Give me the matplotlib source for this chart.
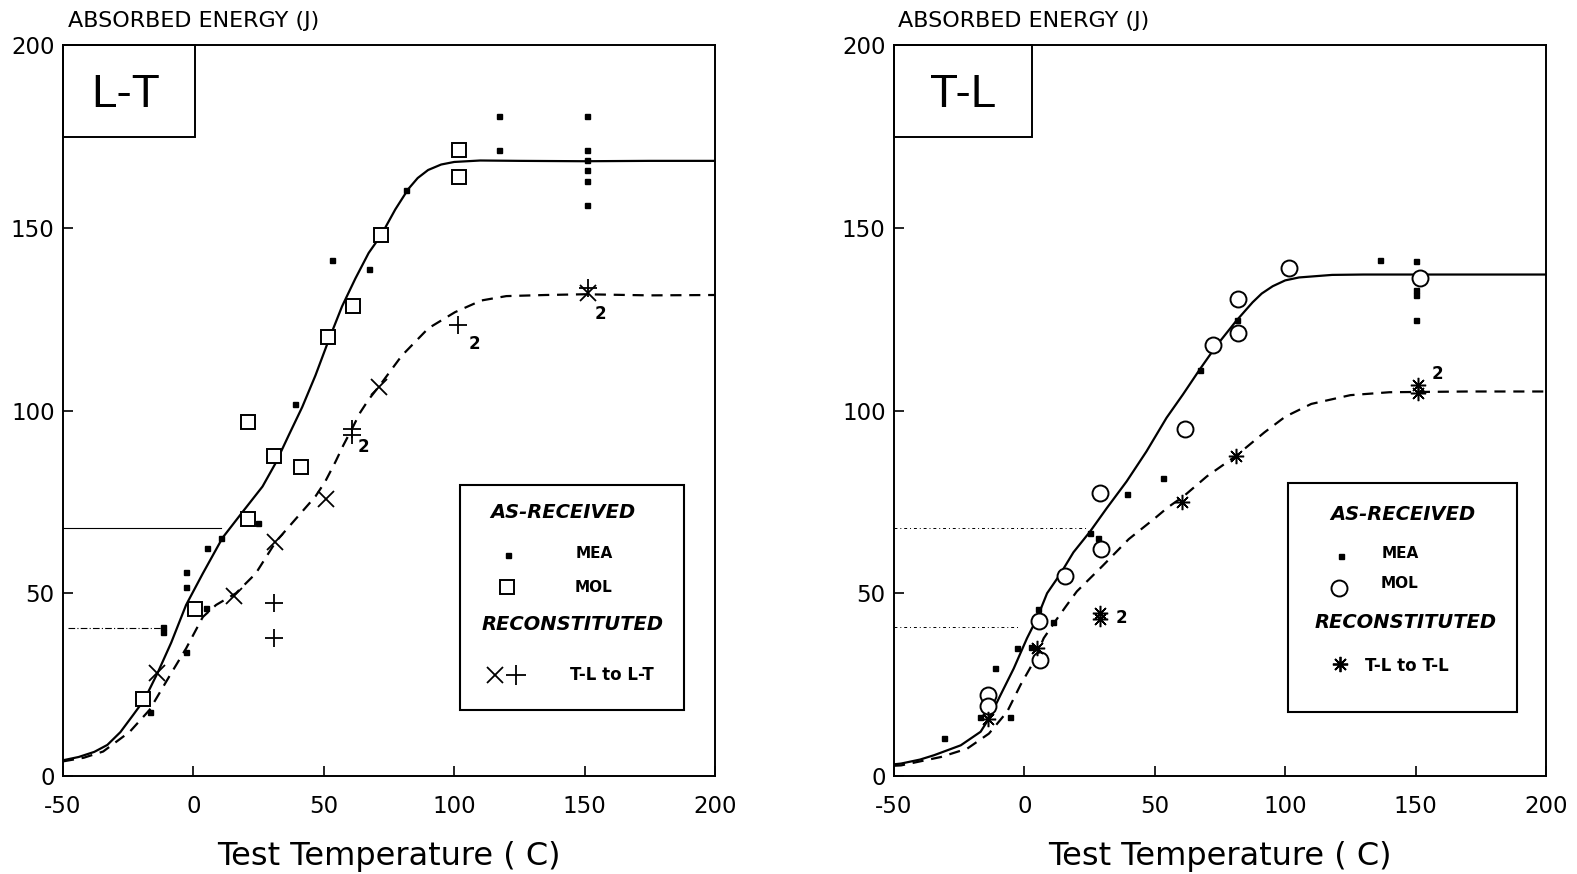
import matplotlib
matplotlib.use('Agg')
import matplotlib.pyplot as plt
from matplotlib.patches import Rectangle
from matplotlib.lines import Line2D

plt.rcParams['axes.unicode_minus'] = False
plt.rcParams['font.family'] = ['DejaVu Sans']

# ---------------- data : left panel (L-T) ----------------
lt_mea_x = [117, 117, 151, 151, 151, 151, 151, 151, 81.4, 53.2, 67.2, 39, 24.7, 10.7,
            5.1, -3, -3, 4.7, -11.6, -11.6, -3, -16.8]
lt_mea_y = [180.6, 171.2, 180.6, 171.2, 168.5, 165.8, 162.9, 156.2, 160.4, 141.3, 138.6,
            101.9, 69.3, 65.1, 62.5, 55.9, 51.6, 45.9, 40.7, 39.5, 33.8, 17.6]
lt_mol_x = [102, 102, 71.8, 61.3, 51.6, 21, 31, 41.1, 20.8, 0.7, -19.2]
lt_mol_y = [171.2, 163.9, 147.9, 128.5, 120.2, 96.9, 87.6, 84.6, 70.2, 45.6, 21]
lt_x_x = [-14, 15.7, 31.1, 50.7, 71.2, 151.3]
lt_x_y = [28.2, 49.3, 64.1, 75.8, 106.5, 132.2]
lt_p_x = [30.8, 30.8, 60.8, 60.8, 101.3, 151.3]
lt_p_y = [47.3, 37.7, 94.9, 93.4, 123.4, 133.6]
lt_note_x = [107.7, 156.1, 65.3]
lt_note_y = [118.2, 126.4, 90.1]

lt_fit_x = [-50, -44, -38, -33, -28, -23, -18.7, -13.6, -8.5, -2.8, 3.6, 11.2, 18.8, 26.5,
            31.6, 36.6, 41.7, 46.8, 51.9, 57, 62.1, 67.2, 72, 77.4, 82.4, 86, 90, 95,
            100, 110, 125, 150, 175, 200]
lt_fit_y = [4.3, 5.2, 6.6, 8.5, 12.0, 16.8, 21, 28.4, 36.5, 46.8, 55.4, 65.2, 72.2, 79.2,
            85.7, 93.3, 100.9, 109.6, 119.3, 128.5, 136.1, 143.1, 148, 155, 160.6, 163.6,
            165.8, 167.3, 168, 168.4, 168.3, 168.2, 168.3, 168.3]
lt_rec_x = [-50, -42, -34.6, -24.4, -16.8, -9.2, -2.8, 3.6, 8.7, 16.3, 23.9, 31.6, 39.2,
            46.8, 50.5, 54.5, 57.5, 60.8, 64, 67.2, 71.6, 79.9, 90.1, 100.3, 110.4, 120,
            135, 150, 175, 200]
lt_rec_y = [4.0, 5.0, 6.7, 12.1, 18.1, 27.3, 34.9, 43.5, 46.8, 50, 55.4, 64.1, 70.3,
            76.5, 80.5, 86, 90.5, 95, 99.5, 103, 107, 115, 122.5, 126.9, 130.1, 131.3,
            131.6, 131.8, 131.5, 131.6]
lt_ref_hi = ([-50, 10.6], 67.9)
lt_ref_lo = ([-48, -11], 40.6)

# ---------------- data : right panel (T-L) ----------------
tl_mea_x = [136.5, 150.3, 150.3, 150.3, 150.3, 81.4, 67.4, 53.2, 39.2, 25.2, 28.1, 5.2,
            10.9, -2.8, 2.5, -11.1, -17.2, -5.7, -30.8]
tl_mea_y = [141.3, 140.9, 132.9, 131.5, 124.7, 124.7, 111.1, 81.5, 77.1, 66.6, 65.1, 45.7,
            42, 35.1, 35.4, 29.6, 16.2, 16.2, 10.4]
tl_mol_x = [101.5, 151.8, 81.8, 81.8, 72.3, 61.7, 29, 29.3, 15.4, 5.5, 6.1, -14, -14]
tl_mol_y = [139.1, 136.3, 130.4, 121.3, 117.9, 95.0, 77.4, 62.1, 54.8, 42.4, 31.7, 22.1, 19.2]
tl_ast_x = [-14, 4.8, 28.8, 28.8, 60.6, 81.2, 150.9, 150.9]
tl_ast_y = [15.7, 34.9, 44.6, 43.0, 75.1, 87.5, 107.1, 104.7]
tl_note_x = [37.3, 158.3]
tl_note_y = [43.3, 110]

tl_fit_x = [-50, -47.3, -40, -34.6, -24.4, -16.8, -13.6, -9.2, -4.1, 1, 4.8, 8.7, 13.7,
            18.8, 25.2, 31.6, 39.2, 46.8, 54.5, 60.8, 67.2, 73.5, 81.2, 87.5, 91, 95.2,
            100, 105.3, 118, 130, 150, 175, 200]
tl_fit_y = [3.2, 3.4, 4.5, 5.7, 8.4, 12.1, 15.7, 22.1, 29.4, 37.7, 43.1, 50.0, 55.2, 61.2,
            66.9, 73.3, 80.6, 88.8, 98, 104.4, 111.2, 117.6, 124.5, 129.6, 132.0, 134.0,
            135.6, 136.4, 137.1, 137.2, 137.2, 137.2, 137.2]
tl_rec_x = [-50, -47.3, -32, -21.9, -13.6, -6.6, -1.5, 3.6, 7.4, 12, 16, 20.1, 30, 40, 50,
            55, 61, 70, 81, 92, 100, 110, 125, 140, 170, 200]
tl_rec_y = [2.8, 2.9, 5.2, 7.5, 11.6, 17.6, 24.9, 31.3, 37.7, 42.5, 46.5, 50.5, 57.5, 64.8,
            70.5, 73.5, 76.5, 82, 87.5, 94, 98.3, 101.8, 104.2, 105, 105.2, 105.2]
tl_ref_hi = ([-50, 24], 67.8)
tl_ref_lo = ([-50, -1.5], 40.9)

x_ticks = [-50, 0, 50, 100, 150, 200]
y_ticks = [0, 50, 100, 150, 200]

# ---------------- figure ----------------
W, H = 1577, 874
fig = plt.figure(figsize=(W / 100, H / 100), dpi=100)
fig.patch.set_facecolor('white')


def P(px, py):
    return (px / W, 1 - py / H)


ax1 = fig.add_axes([63 / W, (H - 776) / H, 652 / W, 731 / H])
ax2 = fig.add_axes([894 / W, (H - 776) / H, 652 / W, 731 / H])

for ax in (ax1, ax2):
    ax.set_xlim(-50, 200)
    ax.set_ylim(0, 200)
    ax.set_xticks(x_ticks)
    ax.set_yticks(y_ticks)
    ax.set_xticklabels([str(t) for t in x_ticks])
    ax.set_yticklabels([str(t) for t in y_ticks])
    ax.tick_params(axis='both', direction='in', length=7, width=1.2, labelsize=16.5,
                   colors='black')
    ax.tick_params(axis='x', pad=14)
    ax.tick_params(axis='y', pad=6)
    for s in ax.spines.values():
        s.set_linewidth(1.4)
        s.set_color('black')
    ax.set_xlabel('Test Temperature ( C)', fontsize=23, labelpad=16)

mk = dict(linestyle='none', color='black')

# left panel
ax1.plot(lt_fit_x, lt_fit_y, '-', color='black', lw=1.6)
ax1.plot(lt_rec_x, lt_rec_y, color='black', lw=1.6, dashes=(5, 3.5))
ax1.plot(lt_ref_hi[0], [lt_ref_hi[1]] * 2, '-', color='black', lw=0.8)
ax1.plot(lt_ref_lo[0], [lt_ref_lo[1]] * 2, color='black', lw=0.8, dashes=(6, 2, 1, 2))
ax1.plot(lt_mea_x, lt_mea_y, marker='s', ms=3.6, **mk)
ax1.plot(lt_mol_x, lt_mol_y, marker='s', ms=10, mfc='white', mew=1.4, **mk)
ax1.plot(lt_x_x, lt_x_y, marker='x', ms=12, mew=1.3, **mk)
ax1.plot(lt_p_x, lt_p_y, marker='+', ms=13, mew=1.3, **mk)
for x, y in zip(lt_note_x, lt_note_y):
    ax1.text(x, y, '2', fontsize=12, fontweight='bold', ha='center', va='center')

# right panel
ax2.plot(tl_fit_x, tl_fit_y, '-', color='black', lw=1.6)
ax2.plot(tl_rec_x, tl_rec_y, color='black', lw=1.6, dashes=(5, 3.5))
ax2.plot(tl_ref_hi[0], [tl_ref_hi[1]] * 2, color='black', lw=0.7, dashes=(3, 3, 1, 3))
ax2.plot(tl_ref_lo[0], [tl_ref_lo[1]] * 2, color='black', lw=0.7, dashes=(3, 3, 1, 3))
ax2.plot(tl_mea_x, tl_mea_y, marker='s', ms=3.6, **mk)
ax2.plot(tl_mol_x, tl_mol_y, marker='o', ms=11.5, mfc='white', mew=1.4, **mk)
ax2.plot(tl_ast_x, tl_ast_y, marker=(8, 2, 0), ms=11, mew=1.1, **mk)
for x, y in zip(tl_note_x, tl_note_y):
    ax2.text(x, y, '2', fontsize=12, fontweight='bold', ha='center', va='center')

# titles above the y axes
fig.text(*P(68, 21), 'ABSORBED ENERGY (J)', fontsize=16, ha='left', va='center')
fig.text(*P(898, 21), 'ABSORBED ENERGY (J)', fontsize=16, ha='left', va='center')

# orientation boxes
fig.add_artist(Rectangle(P(63, 137), (195 - 63) / W, (137 - 45) / H,
                         transform=fig.transFigure, fill=False, lw=1.4, color='black'))
fig.text(*P(126, 95), 'L-T', family='Liberation Sans', fontsize=33, ha='center', va='center')
fig.add_artist(Rectangle(P(894, 137), (1032 - 894) / W, (137 - 45) / H,
                         transform=fig.transFigure, fill=False, lw=1.4, color='black'))
fig.text(*P(963, 95), 'T-L', family='Liberation Sans', fontsize=33, ha='center', va='center')


def legend(box, head1, head2, items_mea, items_mol, mol_marker, rec_markers, rec_text,
           rec_text_pos):
    (x0, y0, x1, y1) = box
    fig.add_artist(Rectangle(P(x0, y1), (x1 - x0) / W, (y1 - y0) / H,
                             transform=fig.transFigure, fill=False, lw=1.5, color='black'))
    fig.text(*P(*head1[1]), head1[0], fontsize=14, fontweight='bold', style='italic',
             ha='center', va='center')
    fig.text(*P(*head2[1]), head2[0], fontsize=14, fontweight='bold', style='italic',
             ha='center', va='center')
    (mx, my), (tx, ty) = items_mea
    fig.add_artist(Line2D([P(mx, my)[0]], [P(mx, my)[1]], transform=fig.transFigure,
                          marker='s', ms=3.6, color='black', linestyle='none'))
    fig.text(*P(tx, ty), 'MEA', fontsize=11, fontweight='bold', ha='center', va='center')
    (mx, my), (tx, ty) = items_mol
    fig.add_artist(Line2D([P(mx, my)[0]], [P(mx, my)[1]], transform=fig.transFigure,
                          marker=mol_marker[0], ms=mol_marker[1], mfc='white', mew=1.4,
                          color='black', linestyle='none'))
    fig.text(*P(tx, ty), 'MOL', fontsize=11, fontweight='bold', ha='center', va='center')
    for (mx, my, m, ms) in rec_markers:
        fig.add_artist(Line2D([P(mx, my)[0]], [P(mx, my)[1]], transform=fig.transFigure,
                              marker=m, ms=ms, mew=1.3, color='black', linestyle='none'))
    fig.text(*P(*rec_text_pos), rec_text, fontsize=12, fontweight='bold',
             ha='center', va='center')


legend((460, 485, 684, 710), ('AS-RECEIVED', (563, 513)), ('RECONSTITUTED', (573, 625)),
       ((508, 555), (594, 553)), ((507, 587), (594, 588)), ('s', 10),
       [(495, 675, 'x', 12), (516, 675, '+', 14)], 'T-L to L-T', (612, 675))
legend((1288, 483, 1517, 712), ('AS-RECEIVED', (1403, 514)), ('RECONSTITUTED', (1406, 623)),
       ((1341, 556), (1400, 553)), ((1339, 588), (1400, 583)), ('o', 11.5),
       [(1340, 664, (8, 2, 0), 11)], 'T-L to T-L', (1407, 666))

fig.savefig('out.png', dpi=100, facecolor='white')
